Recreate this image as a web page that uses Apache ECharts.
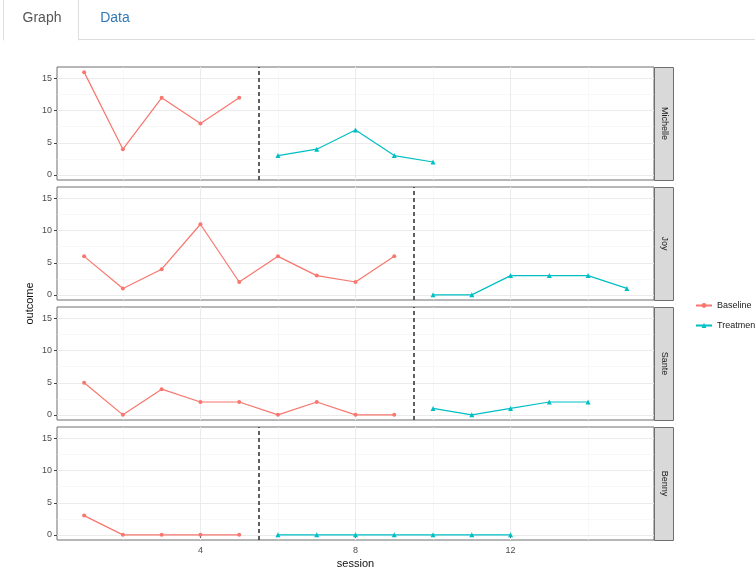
<!DOCTYPE html>
<html>
<head>
<meta charset="utf-8">
<title>Single-case design: outcome by session</title>
<script src="https://cdn.jsdelivr.net/npm/echarts@6/dist/echarts.min.js"></script>
<style>
  html, body { margin: 0; padding: 0; background: #fff; }
  #chart { width: 755px; height: 570px; }
</style>
</head>
<body>
<div id="chart"></div>
<script>
// ---- data -------------------------------------------------------------
const participants = ['Michelle', 'Joy', 'Sante', 'Benny'];

const michelleBaseline  = [[1, 16], [2, 4], [3, 12], [4, 8], [5, 12]];
const michelleTreatment = [[6, 3], [7, 4], [8, 7], [9, 3], [10, 2]];

const joyBaseline  = [[1, 6], [2, 1], [3, 4], [4, 11], [5, 2], [6, 6], [7, 3], [8, 2], [9, 6]];
const joyTreatment = [[10, 0], [11, 0], [12, 3], [13, 3], [14, 3], [15, 1]];

const santeBaseline  = [[1, 5], [2, 0], [3, 4], [4, 2], [5, 2], [6, 0], [7, 2], [8, 0], [9, 0]];
const santeTreatment = [[10, 1], [11, 0], [12, 1], [13, 2], [14, 2]];

const bennyBaseline  = [[1, 3], [2, 0], [3, 0], [4, 0], [5, 0]];
const bennyTreatment = [[6, 0], [7, 0], [8, 0], [9, 0], [10, 0], [11, 0], [12, 0]];

const baselineData  = [michelleBaseline, joyBaseline, santeBaseline, bennyBaseline];
const treatmentData = [michelleTreatment, joyTreatment, santeTreatment, bennyTreatment];

// session at which each participant switched phase (dashed line)
const phaseChange = [5.5, 9.5, 9.5, 5.5];

const xTicks = [4, 8, 12];
const yTicks = [0, 5, 10, 15];
const xMinorGrid = [2, 6, 10, 14];
const yMinorGrid = [2.5, 7.5, 12.5];

// ---- layout -----------------------------------------------------------
const FONT = '"Liberation Sans", Arial, Helvetica, sans-serif';
const BASE_COLOR = '#F8766D';
const TREAT_COLOR = '#00BFC4';
const panelLeft = 57, panelWidth = 597, panelTop0 = 67, panelHeight = 113, panelStep = 120;
const stripWidth = 19;
const xRange = [0.3, 15.7];
const yRange = [-0.8, 16.8];

const grids = [], xAxes = [], yAxes = [], series = [], graphics = [];

participants.forEach((name, i) => {
  const top = panelTop0 + i * panelStep;
  const isBottom = i === participants.length - 1;

  grids.push({
    left: panelLeft, top: top, width: panelWidth, height: panelHeight,
    outerBoundsMode: 'none', containLabel: false,
    show: true, backgroundColor: '#fff', borderColor: '#6e6e6e', borderWidth: 1
  });

  xAxes.push({
    type: 'value', gridIndex: i, min: xRange[0], max: xRange[1],
    axisLine: { show: false },
    splitLine: { show: false },
    axisTick: { show: isBottom, customValues: xTicks, length: 3, lineStyle: { color: '#444' } },
    axisLabel: { show: isBottom, customValues: xTicks, color: '#4d4d4d', fontSize: 9, fontFamily: FONT, margin: 6 },
    name: isBottom ? 'session' : '',
    nameLocation: 'middle', nameGap: 18,
    nameTextStyle: { color: '#111', fontSize: 11, fontFamily: FONT }
  });

  yAxes.push({
    type: 'value', gridIndex: i, min: yRange[0], max: yRange[1],
    axisLine: { show: false },
    splitLine: { show: false },
    axisTick: { show: true, customValues: yTicks, length: 3, lineStyle: { color: '#444' } },
    axisLabel: { customValues: yTicks, color: '#4d4d4d', fontSize: 9, fontFamily: FONT, margin: 5 }
  });

  // background grid (major + minor) drawn as marker lines under the data
  const gridLines = [];
  const major = { color: '#ebebeb', width: 1, type: 'solid' };
  const minor = { color: '#f3f3f3', width: 0.6, type: 'solid' };
  xMinorGrid.forEach(v => gridLines.push({ xAxis: v, lineStyle: minor }));
  yMinorGrid.forEach(v => gridLines.push({ yAxis: v, lineStyle: minor }));
  xTicks.forEach(v => gridLines.push({ xAxis: v, lineStyle: major }));
  yTicks.forEach(v => gridLines.push({ yAxis: v, lineStyle: major }));

  series.push({
    type: 'line', name: '_grid' + i, xAxisIndex: i, yAxisIndex: i, data: [],
    z: 0, silent: true,
    markLine: {
      silent: true, symbol: ['none', 'none'], label: { show: false },
      animation: false, data: gridLines, z: 0
    }
  });

  series.push({
    type: 'line', name: 'Baseline', xAxisIndex: i, yAxisIndex: i,
    data: baselineData[i], z: 3,
    symbol: 'circle', symbolSize: 4, showSymbol: true,
    itemStyle: { color: BASE_COLOR },
    lineStyle: { color: BASE_COLOR, width: 1.2 },
    animation: false,
    markLine: {
      silent: true, symbol: ['none', 'none'], label: { show: false }, animation: false,
      data: [{ xAxis: phaseChange[i] }],
      lineStyle: { color: '#3a3a3a', width: 1.6, type: [4, 3] }
    }
  });

  series.push({
    type: 'line', name: 'Treatment', xAxisIndex: i, yAxisIndex: i,
    data: treatmentData[i], z: 3,
    symbol: 'triangle', symbolSize: 5, showSymbol: true,
    itemStyle: { color: TREAT_COLOR },
    lineStyle: { color: TREAT_COLOR, width: 1.2 },
    animation: false
  });

  // facet strip on the right of each panel
  graphics.push({
    type: 'rect', silent: true,
    shape: { x: panelLeft + panelWidth + 0.5, y: top + 0.5, width: stripWidth, height: panelHeight },
    style: { fill: '#d9d9d9', stroke: '#6e6e6e', lineWidth: 1 }
  });
  graphics.push({
    type: 'text', silent: true,
    x: panelLeft + panelWidth + 1 + stripWidth / 2, y: top + panelHeight / 2,
    rotation: -Math.PI / 2,
    style: { text: name, fill: '#1a1a1a', font: '9px ' + FONT, align: 'center', verticalAlign: 'middle' }
  });
});

// shared y-axis title
graphics.push({
  type: 'text', silent: true,
  x: 30, y: panelTop0 + (panelStep * 3 + panelHeight) / 2,
  rotation: Math.PI / 2,
  style: { text: 'outcome', fill: '#111', font: '11px ' + FONT, align: 'center', verticalAlign: 'middle' }
});

// tab bar above the plot
graphics.push({
  type: 'polyline', silent: true,
  shape: { points: [[3.5, 0], [3.5, 40.5], [78.5, 40.5], [78.5, 0]] },
  style: { stroke: '#dddddd', lineWidth: 1, fill: null }
});
graphics.push({
  type: 'line', silent: true,
  shape: { x1: 3.5, y1: 40.5, x2: 78.5, y2: 40.5 },
  style: { stroke: '#ffffff', lineWidth: 1 }
});
graphics.push({
  type: 'line', silent: true,
  shape: { x1: 78.5, y1: 39.5, x2: 755, y2: 39.5 },
  style: { stroke: '#dddddd', lineWidth: 1 }
});
graphics.push({
  type: 'text', silent: true, x: 42, y: 18,
  style: { text: 'Graph', fill: '#555555', font: '14px ' + FONT, align: 'center', verticalAlign: 'middle' }
});
graphics.push({
  type: 'text', silent: true, x: 115, y: 18,
  style: { text: 'Data', fill: '#337ab7', font: '14px ' + FONT, align: 'center', verticalAlign: 'middle' }
});

const chart = echarts.init(document.getElementById('chart'), null, { renderer: 'canvas' });
chart.setOption({
  backgroundColor: '#ffffff',
  animation: false,
  grid: grids,
  xAxis: xAxes,
  yAxis: yAxes,
  legend: {
    data: ['Baseline', 'Treatment'],
    orient: 'vertical',
    left: 690, top: 296,
    itemWidth: 16, itemHeight: 6, itemGap: 11,
    textStyle: { color: '#1a1a1a', fontSize: 9, fontFamily: FONT },
    selectedMode: false
  },
  series: series,
  graphic: graphics
});
</script>
</body>
</html>
